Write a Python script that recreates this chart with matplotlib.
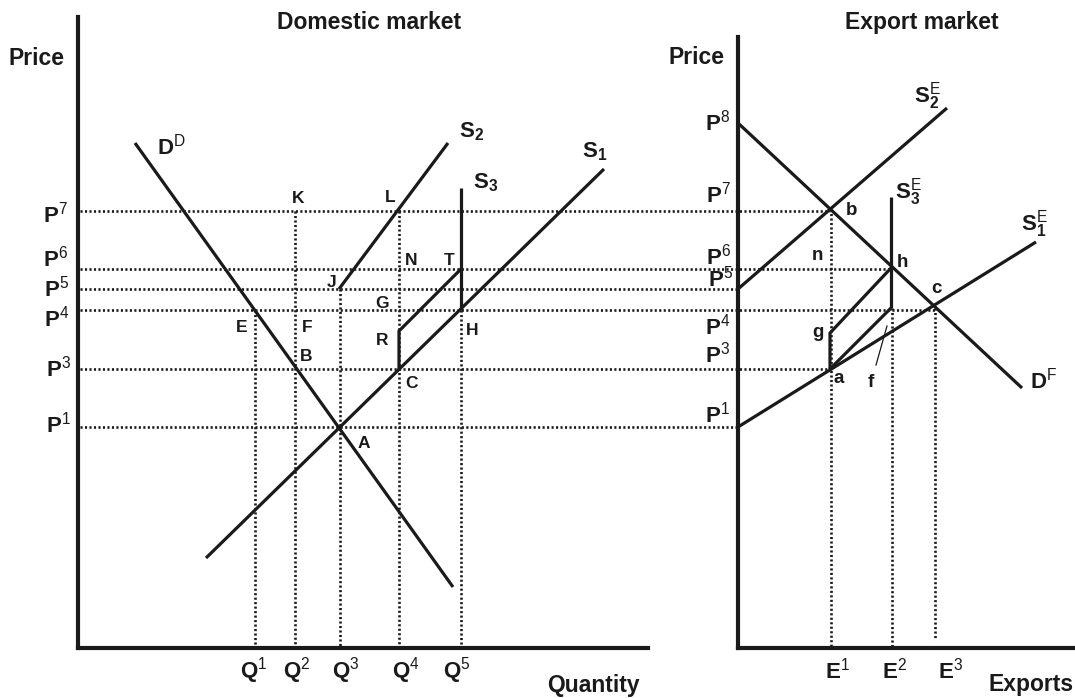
import matplotlib
matplotlib.use('Agg')
import matplotlib.pyplot as plt

plt.rcParams['font.family'] = ['Liberation Sans', 'DejaVu Sans']
plt.rcParams['mathtext.fontset'] = 'custom'
plt.rcParams['mathtext.rm'] = 'Liberation Sans'
plt.rcParams['mathtext.bf'] = 'Liberation Sans:bold'
plt.rcParams['mathtext.it'] = 'Liberation Sans:italic'

# ---------------- data (diagram coordinates, y grows downward) ----------------
# price levels shared by both markets
price_sup = ['1', '3', '4', '5', '6', '7']
price_y = [427, 369, 310, 289, 269, 211]
price_line_end = [738, 830, 935, 738, 891, 830]
p8_y = 123

# domestic quantities
qty_sup = ['1', '2', '3', '4', '5']
qty_x = [255, 295, 340, 399, 461]
qty_top = [310, 211, 289, 211, 310]

# export quantities
exp_sup = ['1', '2', '3']
exp_x = [831, 892, 935]
exp_top = [209, 308, 308]
exp_bottom = [648, 648, 640]

# domestic curves
dd_x = [135, 453]; dd_y = [143, 587]
s1_x = [206, 604]; s1_y = [558, 169]
s2_x = [339, 448]; s2_y = [289, 143]
s3a_x = [399, 399, 461]; s3a_y = [369, 331, 269]
s3b_x = [461, 461]; s3b_y = [188, 310]

# export curves
df_x = [738, 1022]; df_y = [p8_y, 388]
s1e_x = [738, 1036]; s1e_y = [427, 242]
s2e_x = [738, 947]; s2e_y = [289, 108]
s3e_x = [891, 891]; s3e_y = [197, 308]
agh_x = [830, 830, 891]; agh_y = [369, 333, 268]
af_x = [830, 891]; af_y = [369, 308]
fptr_x = [887, 876]; fptr_y = [326, 365]

# point labels: (x_left, baseline, text)
dom_pts = [(292, 203, 'K'), (385, 202, 'L'), (405, 265, 'N'), (444, 265, 'T'),
           (327, 287, 'J'), (236, 332, 'E'), (302, 332, 'F'), (300, 361, 'B'),
           (375, 308, 'G'), (376, 345, 'R'), (466, 335, 'H'), (405, 388, 'C'),
           (358, 448, 'A')]
exp_pts = [(846, 215, 'b'), (812, 260, 'n'), (897, 267, 'h'), (931, 293, 'c'),
           (812, 337, 'g'), (833, 383, 'a'), (868, 387, 'f')]

# ---------------- figure ----------------
fig = plt.figure(figsize=(10.75, 6.98), dpi=100)
ax = fig.add_axes([0, 0, 1, 1])
ax.set_xlim(0, 1075)
ax.set_ylim(698, 0)
ax.axis('off')

K = '#1a1a1a'
AX_LW = 3.0
CURVE_LW = 2.3
DOT = dict(color=K, lw=1.9, linestyle=(0, (0.8, 0.9)), dash_capstyle='butt')
SOL = dict(color=K, lw=CURVE_LW, solid_capstyle='butt', solid_joinstyle='miter')

# axes
ax.plot([78, 78], [17, 648], color=K, lw=AX_LW, solid_capstyle='projecting')
ax.plot([78, 648], [648, 648], color=K, lw=AX_LW, solid_capstyle='projecting')
ax.plot([738, 738], [37, 648], color=K, lw=AX_LW, solid_capstyle='projecting')
ax.plot([738, 1075], [648, 648], color=K, lw=AX_LW, solid_capstyle='projecting')

# dotted guide lines
for y, xe in zip(price_y, price_line_end):
    ax.plot([80, xe], [y, y], **DOT)
for x, yt in zip(qty_x, qty_top):
    ax.plot([x, x], [yt, 646], **DOT)
for x, yt, yb in zip(exp_x, exp_top, exp_bottom):
    ax.plot([x, x], [yt, yb], **DOT)

# curves
for xs, ys in [(dd_x, dd_y), (s1_x, s1_y), (s2_x, s2_y), (s3a_x, s3a_y), (s3b_x, s3b_y),
               (df_x, df_y), (s1e_x, s1e_y), (s2e_x, s2e_y), (s3e_x, s3e_y),
               (agh_x, agh_y), (af_x, af_y)]:
    ax.plot(xs, ys, **SOL)
ax.plot(fptr_x, fptr_y, color=K, lw=0.9)


def lab(x, y, s, size, ha='left', weight='bold'):
    ax.text(x, y, s, fontsize=size, ha=ha, va='baseline', color=K, fontweight=weight)


BIG = 16.5
MID = 16
PT = 12.5

# titles / axis labels
lab(277, 29, 'Domestic market', BIG)
lab(845, 29, 'Export market', BIG)
lab(8, 65, 'Price', BIG)
lab(725, 64, 'Price', BIG, ha='right')
lab(547, 692, 'Quantity', BIG)
lab(988, 691, 'Exports', BIG)

# price labels
dom_p_pos = {'7': (43, 222), '6': (43, 267), '5': (44, 297), '4': (44, 327),
             '3': (46, 377), '1': (46, 433)}
exp_p_pos = {'8': (705, 130), '7': (706, 202), '6': (706, 265), '5': (708, 287),
             '4': (705, 335), '3': (705, 363), '1': (705, 422)}
for s, (x, y) in dom_p_pos.items():
    lab(x, y, r'$\mathbf{P}^{\mathrm{%s}}$' % s, MID)
for s, (x, y) in exp_p_pos.items():
    lab(x, y, r'$\mathbf{P}^{\mathrm{%s}}$' % s, MID)

# quantity labels
for s, x in zip(qty_sup, [240, 283, 332, 392, 443]):
    lab(x, 678, r'$\mathbf{Q}^{\mathrm{%s}}$' % s, MID)
for s, x in zip(exp_sup, [825, 882, 938]):
    lab(x, 678, r'$\mathbf{E}^{\mathrm{%s}}$' % s, MID)

# curve labels
lab(157, 155, r'$\mathbf{D}^{\mathrm{D}}$', MID)
lab(459, 137, r'$\mathbf{S}_{\mathbf{2}}$', MID)
lab(473, 188, r'$\mathbf{S}_{\mathbf{3}}$', MID)
lab(582, 157, r'$\mathbf{S}_{\mathbf{1}}$', MID)
lab(914, 103, r'$\mathbf{S}_{\mathbf{2}}^{\mathrm{E}}$', MID)
lab(895, 198, r'$\mathbf{S}_{\mathbf{3}}^{\mathrm{E}}$', MID)
lab(1021, 230, r'$\mathbf{S}_{\mathbf{1}}^{\mathrm{E}}$', MID)
lab(1030, 388, r'$\mathbf{D}^{\mathrm{F}}$', MID)

# point labels
for x, y, s in dom_pts:
    lab(x, y, s, PT)
for x, y, s in exp_pts:
    lab(x, y, s, 13.5)

fig.savefig('out.png', dpi=100, facecolor='white')
